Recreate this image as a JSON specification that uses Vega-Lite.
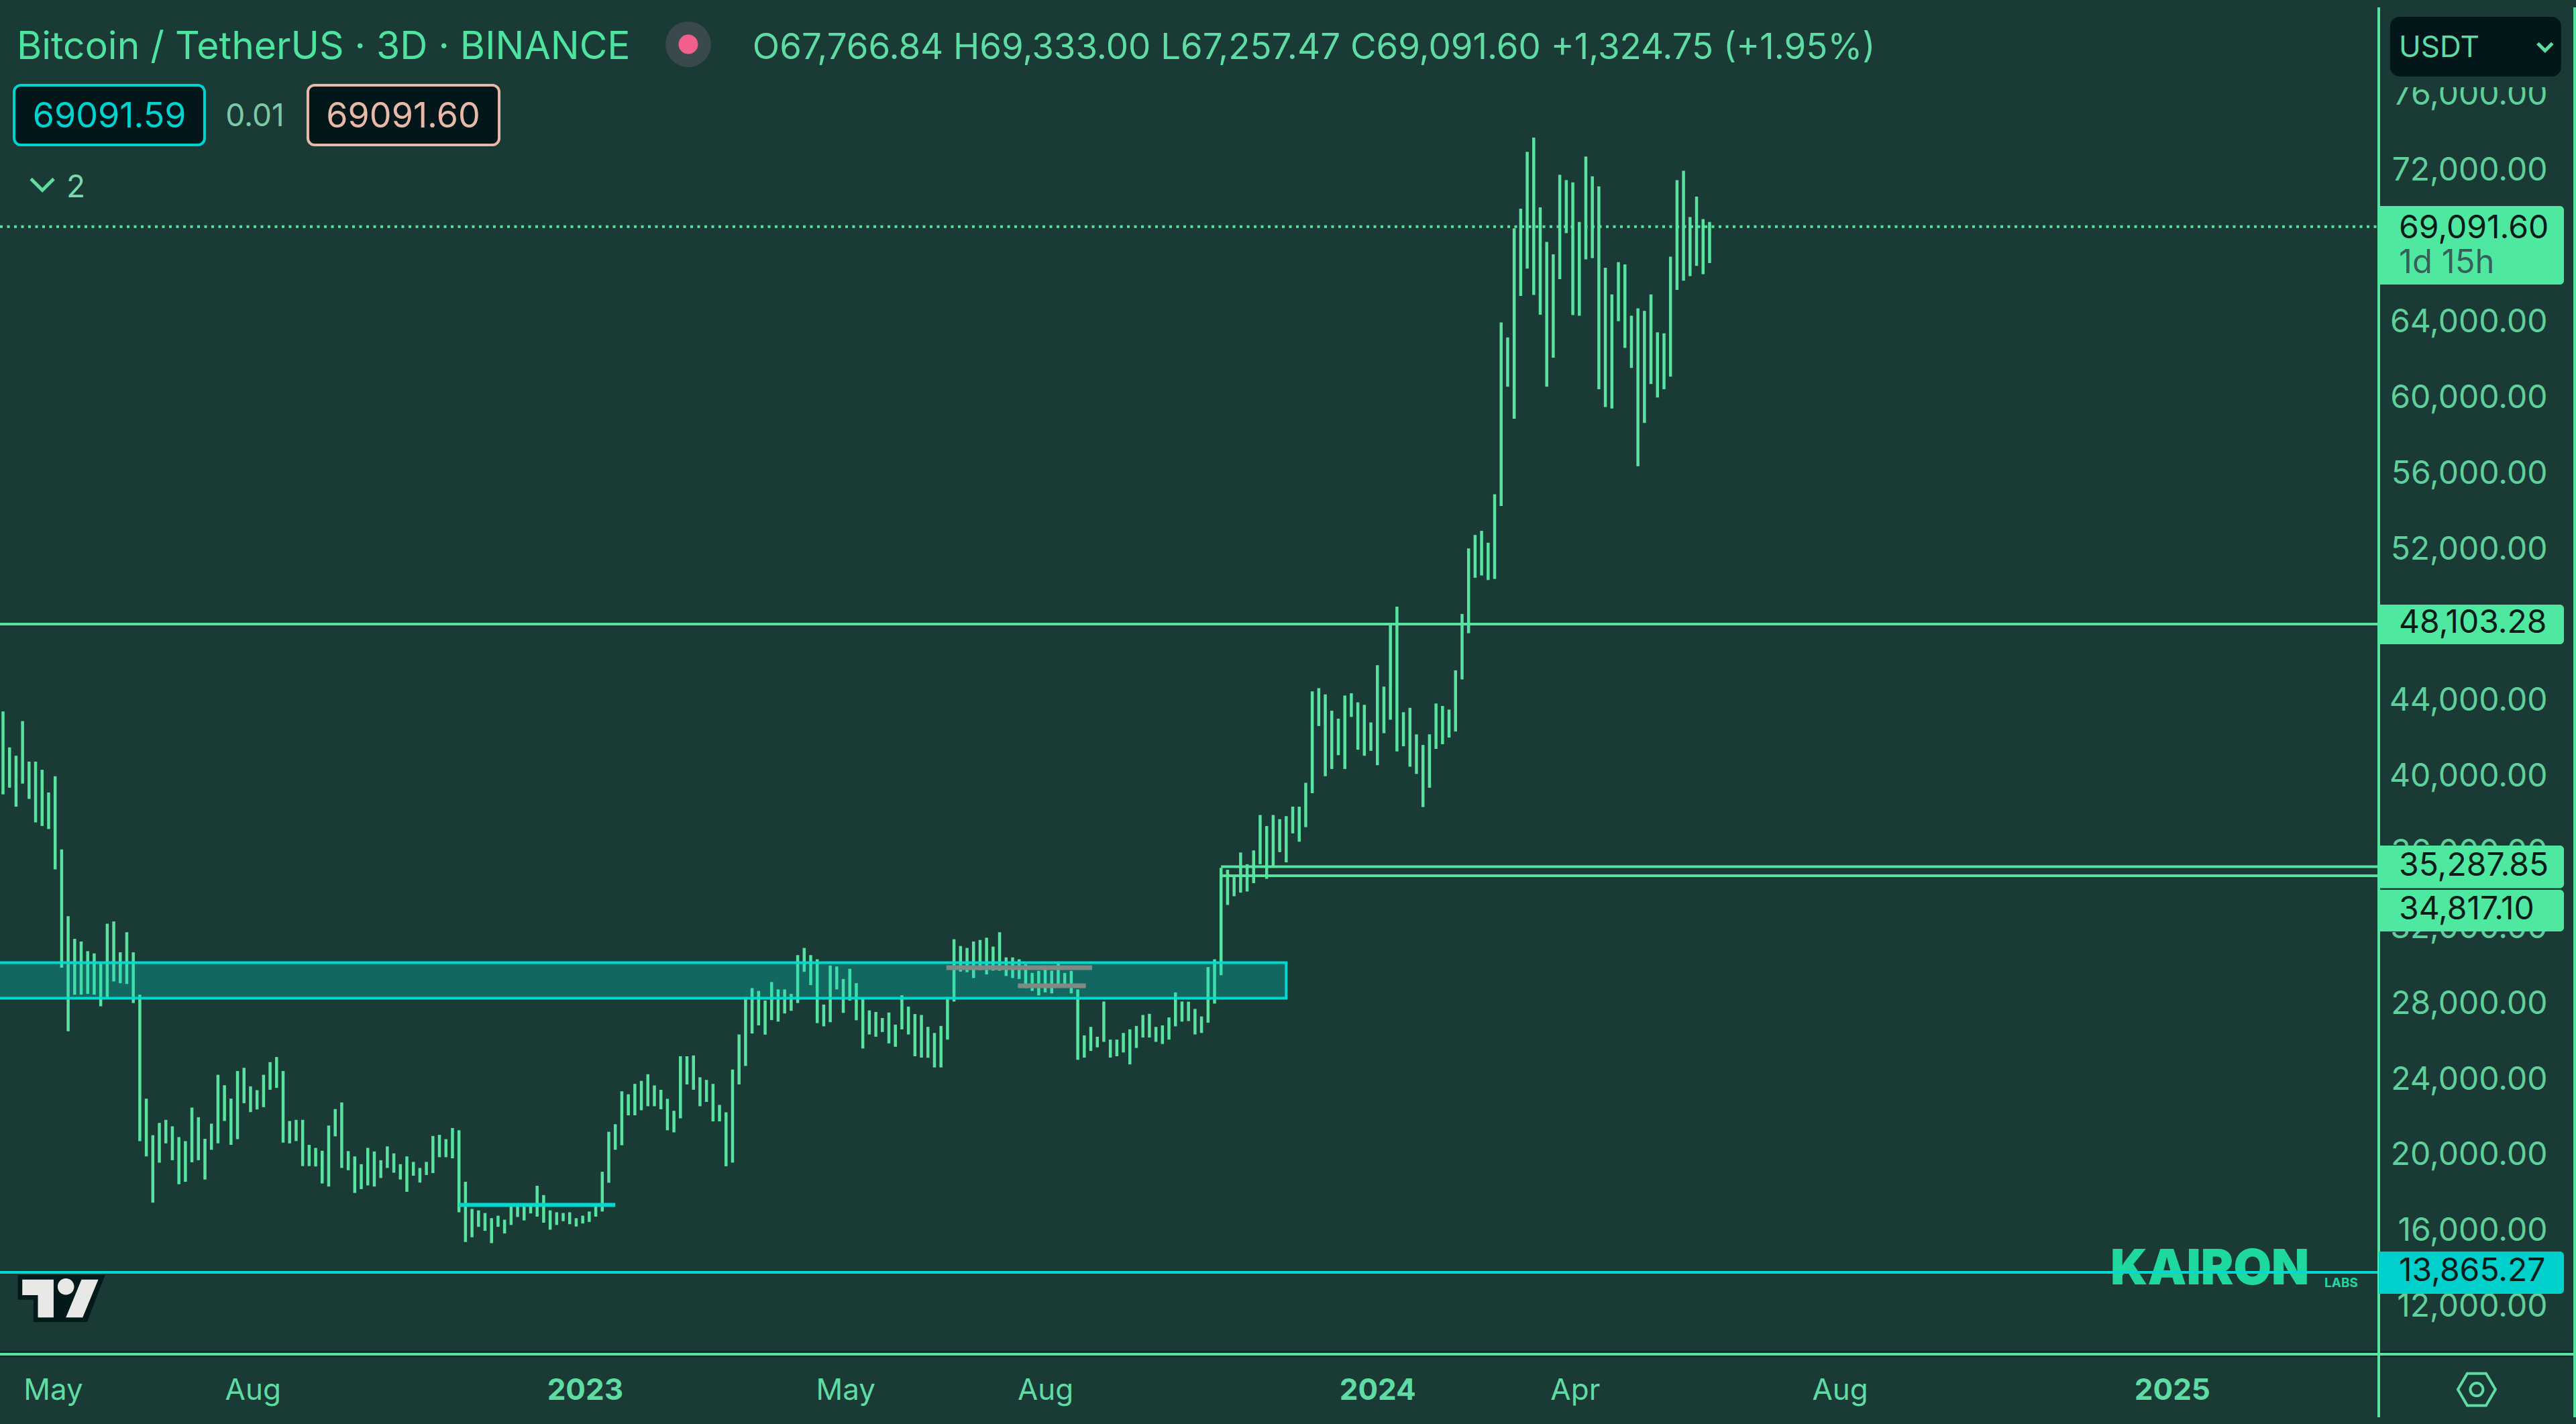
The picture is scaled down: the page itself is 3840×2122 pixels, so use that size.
{
  "$schema": "https://vega.github.io/schema/vega-lite/v6.json",
  "background": "#1a3a36",
  "width": 3546,
  "height": 2018,
  "autosize": {"type": "none"},
  "padding": {"left": 0, "top": 0, "right": 294, "bottom": 104},
  "datasets": {
    "bars": [
      {"date":"2022-04-08","low":39110,"high":43490},{"date":"2022-04-11","low":39460,"high":41590},{"date":"2022-04-14","low":38460,"high":41150},{"date":"2022-04-17","low":39680,"high":42980},{"date":"2022-04-20","low":38870,"high":40840},{"date":"2022-04-23","low":37630,"high":40840},{"date":"2022-04-26","low":37440,"high":40410},{"date":"2022-04-29","low":37280,"high":39210},{"date":"2022-05-02","low":35150,"high":40070},{"date":"2022-05-05","low":29960,"high":36200},
      {"date":"2022-05-08","low":26600,"high":32680},{"date":"2022-05-11","low":28530,"high":31480},{"date":"2022-05-14","low":28530,"high":31340},{"date":"2022-05-17","low":28570,"high":30830},{"date":"2022-05-20","low":28530,"high":30710},{"date":"2022-05-23","low":27920,"high":30260},{"date":"2022-05-26","low":28370,"high":32280},{"date":"2022-05-29","low":29230,"high":32400},{"date":"2022-06-01","low":29140,"high":30770},{"date":"2022-06-04","low":29100,"high":31830},
      {"date":"2022-06-07","low":28090,"high":30770},{"date":"2022-06-10","low":20800,"high":28530},{"date":"2022-06-13","low":19990,"high":23040},{"date":"2022-06-16","low":17550,"high":21110},{"date":"2022-06-19","low":19660,"high":21760},{"date":"2022-06-22","low":20680,"high":21920},{"date":"2022-06-25","low":19790,"high":21580},{"date":"2022-06-28","low":18520,"high":21010},{"date":"2022-07-01","low":18650,"high":20800},{"date":"2022-07-04","low":19680,"high":22570},
      {"date":"2022-07-07","low":19790,"high":22060},{"date":"2022-07-10","low":18770,"high":20920},{"date":"2022-07-13","low":20340,"high":21720},{"date":"2022-07-16","low":20680,"high":24300},{"date":"2022-07-19","low":21860,"high":23750},{"date":"2022-07-22","low":20600,"high":23040},{"date":"2022-07-25","low":20900,"high":24500},{"date":"2022-07-28","low":22800,"high":24670},{"date":"2022-07-31","low":22330,"high":23690},{"date":"2022-08-03","low":22470,"high":23490},
      {"date":"2022-08-06","low":22590,"high":24300},{"date":"2022-08-09","low":23510,"high":24970},{"date":"2022-08-12","low":23610,"high":25240},{"date":"2022-08-15","low":20720,"high":24500},{"date":"2022-08-18","low":20680,"high":21860},{"date":"2022-08-21","low":20800,"high":21920},{"date":"2022-08-24","low":19480,"high":21920},{"date":"2022-08-27","low":19480,"high":20600},{"date":"2022-08-30","low":19460,"high":20440},{"date":"2022-09-02","low":18560,"high":20290},
      {"date":"2022-09-05","low":18400,"high":21620},{"date":"2022-09-08","low":21050,"high":22490},{"date":"2022-09-11","low":19380,"high":22840},{"date":"2022-09-14","low":19260,"high":20270},{"date":"2022-09-17","low":18060,"high":19990},{"date":"2022-09-20","low":18260,"high":19580},{"date":"2022-09-23","low":18460,"high":20440},{"date":"2022-09-26","low":18400,"high":20250},{"date":"2022-09-29","low":18850,"high":19790},{"date":"2022-10-02","low":19380,"high":20520},
      {"date":"2022-10-05","low":19130,"high":20150},{"date":"2022-10-08","low":18770,"high":19580},{"date":"2022-10-11","low":18120,"high":19990},{"date":"2022-10-14","low":18970,"high":19700},{"date":"2022-10-17","low":18610,"high":19380},{"date":"2022-10-20","low":19010,"high":19700},{"date":"2022-10-23","low":19110,"high":21070},{"date":"2022-10-26","low":19950,"high":21130},{"date":"2022-10-29","low":19950,"high":20900},{"date":"2022-11-01","low":19890,"high":21490},
      {"date":"2022-11-04","low":17040,"high":21370},{"date":"2022-11-07","low":15470,"high":18650},{"date":"2022-11-10","low":15720,"high":17220},{"date":"2022-11-13","low":16270,"high":17140},{"date":"2022-11-16","low":16060,"high":17000},{"date":"2022-11-19","low":15410,"high":16730},{"date":"2022-11-22","low":16270,"high":16860},{"date":"2022-11-25","low":15920,"high":16650},{"date":"2022-11-28","low":16370,"high":17340},{"date":"2022-12-01","low":16790,"high":17450},
      {"date":"2022-12-04","low":16610,"high":17340},{"date":"2022-12-07","low":16980,"high":17390},{"date":"2022-12-10","low":16810,"high":18440},{"date":"2022-12-13","low":16490,"high":17950},{"date":"2022-12-16","low":16120,"high":17140},{"date":"2022-12-19","low":16370,"high":17040},{"date":"2022-12-22","low":16570,"high":17000},{"date":"2022-12-25","low":16410,"high":17040},{"date":"2022-12-28","low":16290,"high":16730},{"date":"2022-12-31","low":16450,"high":16860},
      {"date":"2023-01-03","low":16530,"high":17080},{"date":"2023-01-06","low":16810,"high":17410},{"date":"2023-01-09","low":17080,"high":19180},{"date":"2023-01-12","low":18600,"high":21290},{"date":"2023-01-15","low":20340,"high":21690},{"date":"2023-01-18","low":20580,"high":23430},{"date":"2023-01-21","low":22160,"high":23270},{"date":"2023-01-24","low":22160,"high":23820},{"date":"2023-01-27","low":22430,"high":23980},{"date":"2023-01-30","low":22640,"high":24330},
      {"date":"2023-02-02","low":22640,"high":23740},{"date":"2023-02-05","low":22480,"high":23510},{"date":"2023-02-08","low":21370,"high":23030},{"date":"2023-02-11","low":21260,"high":22400},{"date":"2023-02-14","low":22000,"high":25280},{"date":"2023-02-17","low":23790,"high":25280},{"date":"2023-02-20","low":23510,"high":25320},{"date":"2023-02-23","low":22640,"high":24170},{"date":"2023-02-26","low":22870,"high":24030},{"date":"2023-03-01","low":21840,"high":23820},
      {"date":"2023-03-04","low":21840,"high":22710},{"date":"2023-03-07","low":19470,"high":22320},{"date":"2023-03-10","low":19660,"high":24580},{"date":"2023-03-13","low":23790,"high":26430},{"date":"2023-03-16","low":24770,"high":28410},{"date":"2023-03-19","low":26480,"high":28880},{"date":"2023-03-22","low":26910,"high":28730},{"date":"2023-03-25","low":26420,"high":28220},{"date":"2023-03-28","low":27190,"high":29200},{"date":"2023-03-31","low":27110,"high":28810},
      {"date":"2023-04-03","low":27540,"high":28810},{"date":"2023-04-06","low":27680,"high":28570},{"date":"2023-04-09","low":28090,"high":30620},{"date":"2023-04-12","low":29740,"high":31000},{"date":"2023-04-15","low":29040,"high":30620},{"date":"2023-04-18","low":27030,"high":30400},{"date":"2023-04-21","low":26860,"high":28010},{"date":"2023-04-24","low":27080,"high":30070},{"date":"2023-04-27","low":28810,"high":30020},{"date":"2023-04-30","low":27570,"high":29360},
      {"date":"2023-05-03","low":28220,"high":29900},{"date":"2023-05-06","low":27180,"high":29140},{"date":"2023-05-09","low":25690,"high":28360},{"date":"2023-05-12","low":26430,"high":27700},{"date":"2023-05-15","low":26310,"high":27620},{"date":"2023-05-18","low":26560,"high":27300},{"date":"2023-05-21","low":25960,"high":27590},{"date":"2023-05-24","low":25780,"high":26950},{"date":"2023-05-27","low":26700,"high":28500},{"date":"2023-05-30","low":26430,"high":27900},
      {"date":"2023-06-02","low":25280,"high":27510},{"date":"2023-06-05","low":25210,"high":27460},{"date":"2023-06-08","low":25200,"high":26830},{"date":"2023-06-11","low":24690,"high":26510},{"date":"2023-06-14","low":24690,"high":26880},{"date":"2023-06-17","low":26160,"high":28410},{"date":"2023-06-20","low":28170,"high":31460},{"date":"2023-06-23","low":29750,"high":31100},{"date":"2023-06-26","low":29720,"high":31000},{"date":"2023-06-29","low":29410,"high":31340},
      {"date":"2023-07-02","low":29830,"high":31420},{"date":"2023-07-05","low":29600,"high":31540},{"date":"2023-07-08","low":29800,"high":31070},{"date":"2023-07-11","low":29800,"high":31830},{"date":"2023-07-14","low":29520,"high":30500},{"date":"2023-07-17","low":29410,"high":30500},{"date":"2023-07-20","low":29360,"high":30400},{"date":"2023-07-23","low":28880,"high":30150},{"date":"2023-07-26","low":28730,"high":29680},{"date":"2023-07-29","low":28490,"high":29790},
      {"date":"2023-08-01","low":28650,"high":30070},{"date":"2023-08-04","low":28600,"high":29800},{"date":"2023-08-07","low":29040,"high":30280},{"date":"2023-08-10","low":28960,"high":29680},{"date":"2023-08-13","low":28600,"high":29790},{"date":"2023-08-16","low":25090,"high":28810},{"date":"2023-08-19","low":25210,"high":26380},{"date":"2023-08-22","low":25560,"high":26830},{"date":"2023-08-25","low":25750,"high":26310},{"date":"2023-08-28","low":26040,"high":28170},
      {"date":"2023-08-31","low":25210,"high":26160},{"date":"2023-09-03","low":25280,"high":26160},{"date":"2023-09-06","low":25480,"high":26510},{"date":"2023-09-09","low":24850,"high":26700},{"date":"2023-09-12","low":25720,"high":26880},{"date":"2023-09-15","low":26270,"high":27460},{"date":"2023-09-18","low":26270,"high":27520},{"date":"2023-09-21","low":26040,"high":26830},{"date":"2023-09-24","low":25930,"high":26910},{"date":"2023-09-27","low":26160,"high":27330},
      {"date":"2023-09-30","low":26860,"high":28650},{"date":"2023-10-03","low":27110,"high":28170},{"date":"2023-10-06","low":27140,"high":28160},{"date":"2023-10-09","low":26430,"high":27780},{"date":"2023-10-12","low":26510,"high":27380},{"date":"2023-10-15","low":27050,"high":29990},{"date":"2023-10-18","low":28060,"high":30400},{"date":"2023-10-21","low":29560,"high":35230},{"date":"2023-10-24","low":33270,"high":35130},{"date":"2023-10-27","low":33730,"high":34850},
      {"date":"2023-10-30","low":33920,"high":36040},{"date":"2023-11-02","low":33980,"high":35420},{"date":"2023-11-05","low":34420,"high":36150},{"date":"2023-11-08","low":35420,"high":38020},{"date":"2023-11-11","low":34650,"high":37440},{"date":"2023-11-14","low":35330,"high":38020},{"date":"2023-11-17","low":36060,"high":37800},{"date":"2023-11-20","low":35520,"high":37960},{"date":"2023-11-23","low":37050,"high":38460},{"date":"2023-11-26","low":36610,"high":38460},
      {"date":"2023-11-29","low":37380,"high":39720},{"date":"2023-12-02","low":39170,"high":44550},{"date":"2023-12-05","low":42720,"high":44720},{"date":"2023-12-08","low":40070,"high":44390},{"date":"2023-12-11","low":40450,"high":43530},{"date":"2023-12-14","low":41180,"high":43110},{"date":"2023-12-17","low":40450,"high":44330},{"date":"2023-12-20","low":43200,"high":44450},{"date":"2023-12-23","low":41470,"high":43970},{"date":"2023-12-26","low":41150,"high":43840},
      {"date":"2023-12-29","low":41410,"high":42910},{"date":"2024-01-01","low":40650,"high":45930},{"date":"2024-01-04","low":42340,"high":44800},{"date":"2024-01-07","low":43050,"high":48100},{"date":"2024-01-10","low":41380,"high":49020},{"date":"2024-01-13","low":41650,"high":43450},{"date":"2024-01-16","low":40570,"high":43680},{"date":"2024-01-19","low":40190,"high":42280},{"date":"2024-01-22","low":38440,"high":41720},{"date":"2024-01-25","low":39460,"high":42280},
      {"date":"2024-01-28","low":41510,"high":43910},{"date":"2024-01-31","low":41760,"high":43780},{"date":"2024-02-03","low":42110,"high":43590},{"date":"2024-02-06","low":42430,"high":45660},{"date":"2024-02-09","low":45180,"high":48640},{"date":"2024-02-12","low":47620,"high":52100},{"date":"2024-02-15","low":50550,"high":52810},{"date":"2024-02-18","low":50670,"high":53030},{"date":"2024-02-21","low":50430,"high":52400},{"date":"2024-02-24","low":50490,"high":54960},
      {"date":"2024-02-27","low":54340,"high":64030},{"date":"2024-03-01","low":60640,"high":63240},{"date":"2024-03-04","low":58950,"high":69000},{"date":"2024-03-07","low":65430,"high":70040},{"date":"2024-03-10","low":66880,"high":73040},{"date":"2024-03-13","low":65490,"high":73800},{"date":"2024-03-16","low":64440,"high":70110},{"date":"2024-03-19","low":60640,"high":68290},{"date":"2024-03-22","low":62170,"high":67630},{"date":"2024-03-25","low":66320,"high":71830},
      {"date":"2024-03-28","low":68750,"high":71550},{"date":"2024-03-31","low":64420,"high":71430},{"date":"2024-04-03","low":64390,"high":69340},{"date":"2024-04-06","low":67360,"high":72800},{"date":"2024-04-09","low":67430,"high":71750},{"date":"2024-04-12","low":60510,"high":71220},{"date":"2024-04-15","low":59570,"high":66920},{"date":"2024-04-18","low":59490,"high":65510},{"date":"2024-04-21","low":64100,"high":67220},{"date":"2024-04-24","low":62690,"high":67100},
      {"date":"2024-04-27","low":61630,"high":64390},{"date":"2024-04-30","low":56440,"high":64780},{"date":"2024-05-03","low":58730,"high":64640},{"date":"2024-05-06","low":60780,"high":65510},{"date":"2024-05-09","low":60070,"high":63510},{"date":"2024-05-12","low":60510,"high":63460},{"date":"2024-05-15","low":61170,"high":67510},{"date":"2024-05-18","low":65750,"high":71550},{"date":"2024-05-21","low":66240,"high":72040},{"date":"2024-05-24","low":66480,"high":69600},
      {"date":"2024-05-27","low":67020,"high":70680},{"date":"2024-05-30","low":66580,"high":69490},{"date":"2024-06-02","low":67170,"high":69340}
    ]
  },
  "encoding": {
    "x": {
      "field": "date",
      "type": "temporal",
      "title": null,
      "scale": {"type": "utc", "nice": false, "domain": ["2022-04-06T14:40:00Z", "2025-04-06T05:00:00Z"]},
      "axis": {
        "values": ["2022-05-01", "2022-08-01", "2023-01-01", "2023-05-01", "2023-08-01", "2024-01-01", "2024-04-01", "2024-08-01", "2025-01-01"],
        "labelExpr": "utcmonth(datum.value) == 0 ? utcFormat(datum.value, '%Y') : utcFormat(datum.value, '%b')",
        "labelFontWeight": {"condition": {"test": "utcmonth(datum.value) == 0", "value": "bold"}, "value": "normal"},
        "labelBaseline": "middle",
        "labelPadding": 54,
        "labelFontSize": 44,
        "labelColor": "#5fdca3",
        "labelOverlap": false,
        "labelFlush": false,
        "labelBound": false,
        "ticks": false,
        "domain": false,
        "grid": false
      }
    },
    "y": {
      "field": "price",
      "type": "quantitative",
      "title": null,
      "scale": {"domain": [9544, 81062], "nice": false, "zero": false},
      "axis": {
        "orient": "right",
        "values": [12000, 16000, 20000, 24000, 28000, 32000, 36000, 40000, 44000, 48000, 52000, 56000, 60000, 64000, 68000, 72000, 76000],
        "format": ",.2f",
        "labelAlign": "right",
        "labelBaseline": "middle",
        "labelPadding": 251,
        "labelOffset": -1,
        "labelFontSize": 48,
        "labelLimit": 1000,
        "labelColor": "#5fd09c",
        "labelOverlap": false,
        "labelFlush": false,
        "labelBound": false,
        "ticks": false,
        "domain": false,
        "grid": false
      }
    }
  },
  "layer": [
    {
      "data": {"values": [{"date": "2024-12-03T15:00:00Z", "price": 14010, "label": "KAIRON"}]},
      "mark": {"type": "text", "align": "left", "baseline": "middle", "fontSize": 73, "fontWeight": 900, "color": "#1fd8a0"},
      "encoding": {"text": {"field": "label"}}
    },
    {
      "data": {"values": [{"date": "2025-03-12T05:00:00Z", "price": 13300, "label": "LABS"}]},
      "mark": {"type": "text", "align": "left", "baseline": "middle", "fontSize": 19, "fontWeight": 700, "letterSpacing": 3, "color": "#1fd8a0"},
      "encoding": {"text": {"field": "label"}}
    },
    {
      "data": {"name": "bars"},
      "mark": {"type": "rule", "color": "#58e3a1", "strokeWidth": 4.5},
      "encoding": {
        "y": {"field": "low", "type": "quantitative", "title": null},
        "y2": {"field": "high"}
      }
    },
    {
      "data": {"values": [{"date": "2022-03-20", "end": "2023-11-20", "price": 28349, "top": 30220}], "format": {"parse": {"date": "date", "end": "date"}}},
      "mark": {"type": "rect", "fill": "#00d4c8", "fillOpacity": 0.3, "stroke": "#00d8d0", "strokeWidth": 4},
      "encoding": {"x2": {"field": "end"}, "y2": {"field": "top"}}
    },
    {
      "data": {"values": [
        {"date": "2022-04-06T14:40:00Z", "end": "2025-04-06T05:00:00Z", "price": 48103.28},
        {"date": "2023-10-21", "end": "2025-04-06T05:00:00Z", "price": 35287.85},
        {"date": "2023-10-21", "end": "2025-04-06T05:00:00Z", "price": 34817.10}
      ], "format": {"parse": {"date": "date", "end": "date"}}},
      "mark": {"type": "rule", "color": "#58e3a1", "strokeWidth": 4},
      "encoding": {"x2": {"field": "end"}}
    },
    {
      "data": {"values": [{"date": "2022-04-06T14:40:00Z", "end": "2025-04-06T05:00:00Z", "price": 69091.6}], "format": {"parse": {"date": "date", "end": "date"}}},
      "mark": {"type": "rule", "color": "#58e3a1", "strokeWidth": 4, "strokeDash": [4, 6.5]},
      "encoding": {"x2": {"field": "end"}}
    },
    {
      "data": {"values": [{"date": "2022-04-06T14:40:00Z", "end": "2025-04-06T05:00:00Z", "price": 13865.27}], "format": {"parse": {"date": "date", "end": "date"}}},
      "mark": {"type": "rule", "color": "#00d8d0", "strokeWidth": 4},
      "encoding": {"x2": {"field": "end"}}
    },
    {
      "data": {"values": [{"date": "2022-11-04", "end": "2023-01-15", "price": 17427}], "format": {"parse": {"date": "date", "end": "date"}}},
      "mark": {"type": "rule", "color": "#00d8d0", "strokeWidth": 6},
      "encoding": {"x2": {"field": "end"}}
    },
    {
      "data": {"values": [
        {"date": "2023-06-16T12:00:00Z", "end": "2023-08-22T14:00:00Z", "price": 29958},
        {"date": "2023-07-19T10:00:00Z", "end": "2023-08-19T17:00:00Z", "price": 28999}
      ], "format": {"parse": {"date": "date", "end": "date"}}},
      "mark": {"type": "rule", "color": "#808a85", "strokeWidth": 7},
      "encoding": {"x2": {"field": "end"}}
    },
    {
      "data": {"values": [{"date": "2022-04-06T14:40:00Z", "end": "2025-07-05T10:00:00Z", "price": 9544}], "format": {"parse": {"date": "date", "end": "date"}}},
      "mark": {"type": "rule", "color": "#10262a", "strokeWidth": 9},
      "encoding": {"x2": {"field": "end"}}
    },
    {
      "data": {"values": [{"date": "2022-04-06T14:40:00Z", "end": "2025-07-05T10:00:00Z", "price": 9544}], "format": {"parse": {"date": "date", "end": "date"}}},
      "mark": {"type": "rule", "color": "#58e3a1", "strokeWidth": 4},
      "encoding": {"x2": {"field": "end"}}
    },
    {
      "data": {"values": [
        {"date": "2025-04-06T05:00:00Z", "price": 6213, "top": 80672},
        {"date": "2025-07-05T10:00:00Z", "price": 6213, "top": 80672}
      ], "format": {"parse": {"date": "date"}}},
      "mark": {"type": "rule", "color": "#58e3a1", "strokeWidth": 4},
      "encoding": {"y2": {"field": "top"}}
    },
    {
      "data": {"values": [
        {"date": "2025-04-06T05:00:00Z", "end": "2025-06-30T12:00:00Z", "price": 66036, "top": 70183},
        {"date": "2025-04-06T05:00:00Z", "end": "2025-06-30T12:00:00Z", "price": 47040, "top": 49131},
        {"date": "2025-04-06T05:00:00Z", "end": "2025-06-30T12:00:00Z", "price": 34158, "top": 36408},
        {"date": "2025-04-06T05:00:00Z", "end": "2025-06-30T12:00:00Z", "price": 31872, "top": 34069}
      ], "format": {"parse": {"date": "date", "end": "date"}}},
      "mark": {"type": "rect", "fill": "#4fe8a0", "cornerRadiusTopRight": 6, "cornerRadiusBottomRight": 6},
      "encoding": {"x2": {"field": "end"}, "y2": {"field": "top"}}
    },
    {
      "data": {"values": [{"date": "2025-04-06T05:00:00Z", "end": "2025-06-30T12:00:00Z", "price": 12735, "top": 14967}], "format": {"parse": {"date": "date", "end": "date"}}},
      "mark": {"type": "rect", "fill": "#00d0cc", "cornerRadiusTopRight": 6, "cornerRadiusBottomRight": 6},
      "encoding": {"x2": {"field": "end"}, "y2": {"field": "top"}}
    },
    {
      "data": {"values": [{"date": "2025-04-08T00:00:00Z", "end": "2025-07-03T00:00:00Z", "price": 76455, "top": 78000}], "format": {"parse": {"date": "date", "end": "date"}}},
      "mark": {"type": "rect", "fill": "#1a3a36"},
      "encoding": {"x2": {"field": "end"}, "y2": {"field": "top"}}
    },
    {
      "data": {"values": [{"date": "2025-04-11T11:00:00Z", "end": "2025-06-29T05:00:00Z", "price": 77022, "top": 80176}], "format": {"parse": {"date": "date", "end": "date"}}},
      "mark": {"type": "rect", "fill": "#03171a", "cornerRadius": 14},
      "encoding": {"x2": {"field": "end"}, "y2": {"field": "top"}}
    },
    {
      "data": {"values": [{"date": "2022-04-13T02:40:00Z", "end": "2022-07-09T19:30:00Z", "price": 73407, "top": 76561}], "format": {"parse": {"date": "date", "end": "date"}}},
      "mark": {"type": "rect", "fill": "#03171a", "stroke": "#00d4d0", "strokeWidth": 4, "cornerRadius": 10},
      "encoding": {"x2": {"field": "end"}, "y2": {"field": "top"}}
    },
    {
      "data": {"values": [{"date": "2022-08-26T10:00:00Z", "end": "2022-11-22T12:00:00Z", "price": 73407, "top": 76561}], "format": {"parse": {"date": "date", "end": "date"}}},
      "mark": {"type": "rect", "fill": "#03171a", "stroke": "#e8b8a8", "strokeWidth": 4, "cornerRadius": 10},
      "encoding": {"x2": {"field": "end"}, "y2": {"field": "top"}}
    },
    {
      "data": {"values": [{"date": "2025-04-15T12:00:00Z", "price": 68990, "label": "69,091.60"}, {"date": "2025-04-15T12:00:00Z", "price": 48140, "label": "48,103.28"}, {"date": "2025-04-15T12:00:00Z", "price": 35310, "label": "35,287.85"}, {"date": "2025-04-15T12:00:00Z", "price": 33010, "label": "34,817.10"}, {"date": "2025-04-15T12:00:00Z", "price": 13905, "label": "13,865.27"}]},
      "mark": {"type": "text", "align": "left", "baseline": "middle", "fontSize": 48, "color": "#0a1c1a"},
      "encoding": {"text": {"field": "label"}}
    },
    {
      "data": {"values": [{"date": "2025-04-15T12:00:00Z", "price": 67170, "label": "1d 15h"}]},
      "mark": {"type": "text", "align": "left", "baseline": "middle", "fontSize": 49, "color": "#38605a"},
      "encoding": {"text": {"field": "label"}}
    },
    {
      "data": {"values": [{"date": "2025-04-15T12:00:00Z", "price": 78500, "label": "USDT"}]},
      "mark": {"type": "text", "align": "left", "baseline": "middle", "fontSize": 44, "color": "#5fdca3"},
      "encoding": {"text": {"field": "label"}}
    },
    {
      "data": {"values": [{"date": "2022-04-14T07:30:00Z", "price": 77943, "label": "Bitcoin / TetherUS · 3D · BINANCE"}]},
      "mark": {"type": "text", "align": "left", "baseline": "alphabetic", "fontSize": 57, "color": "#4fe3a0"},
      "encoding": {"text": {"field": "label"}}
    },
    {
      "data": {"values": [{"date": "2023-03-19T05:00:00Z", "price": 77943, "label": "O67,766.84  H69,333.00  L67,257.47  C69,091.60  +1,324.75  (+1.95%)"}]},
      "mark": {"type": "text", "align": "left", "baseline": "alphabetic", "fontSize": 52.8, "color": "#5fdca3"},
      "encoding": {"text": {"field": "label"}}
    },
    {
      "data": {"values": [{"date": "2022-05-27T00:20:00Z", "price": 74890, "label": "69091.59"}]},
      "mark": {"type": "text", "align": "center", "baseline": "middle", "fontSize": 52, "color": "#00d4d0"},
      "encoding": {"text": {"field": "label"}}
    },
    {
      "data": {"values": [{"date": "2022-10-09T07:30:00Z", "price": 74890, "label": "69091.60"}]},
      "mark": {"type": "text", "align": "center", "baseline": "middle", "fontSize": 52, "color": "#e8b8a8"},
      "encoding": {"text": {"field": "label"}}
    },
    {
      "data": {"values": [{"date": "2022-08-02T00:20:00Z", "price": 74890, "label": "0.01"}]},
      "mark": {"type": "text", "align": "center", "baseline": "middle", "fontSize": 46, "color": "#7cc9a6"},
      "encoding": {"text": {"field": "label"}}
    },
    {
      "data": {"values": [{"date": "2022-05-11T12:16:00Z", "price": 71130, "label": "2"}]},
      "mark": {"type": "text", "align": "center", "baseline": "middle", "fontSize": 46, "color": "#7cd8ab"},
      "encoding": {"text": {"field": "label"}}
    },
    {
      "data": {"values": [{"date": "2022-04-26T02:40:00Z", "price": 71316}]},
      "mark": {"type": "point", "shape": "M-1,-0.5L0,0.5L1,-0.5", "filled": false, "size": 1156, "strokeWidth": 5, "color": "#5fdca3", "opacity": 1},
      "encoding": {}
    },
    {
      "data": {"values": [{"date": "2025-06-21T19:00:00Z", "price": 78581}]},
      "mark": {"type": "point", "shape": "M-1,-0.5L0,0.5L1,-0.5", "filled": false, "size": 484, "strokeWidth": 5, "color": "#5fdca3", "opacity": 1},
      "encoding": {}
    },
    {
      "data": {"values": [{"date": "2023-02-17T14:40:00Z", "price": 78723}]},
      "mark": {"type": "point", "shape": "circle", "filled": true, "size": 4624, "color": "#3a4a4c", "opacity": 1},
      "encoding": {}
    },
    {
      "data": {"values": [{"date": "2023-02-17T14:40:00Z", "price": 78723}]},
      "mark": {"type": "point", "shape": "circle", "filled": true, "size": 840, "color": "#f0608a", "opacity": 1},
      "encoding": {}
    },
    {
      "data": {"values": [{"date": "2025-05-21T07:00:00Z", "price": 7680}]},
      "mark": {"type": "point", "shape": "M-1,0L-0.5,-0.85L0.5,-0.85L1,0L0.5,0.85L-0.5,0.85Z", "filled": false, "size": 3136, "strokeWidth": 4, "color": "#5fdca3", "opacity": 1},
      "encoding": {}
    },
    {
      "data": {"values": [{"date": "2025-05-21T07:00:00Z", "price": 7680}]},
      "mark": {"type": "point", "shape": "circle", "filled": false, "size": 361, "strokeWidth": 4, "color": "#5fdca3", "opacity": 1},
      "encoding": {}
    },
    {
      "data": {"values": [{"date": "2022-05-05T10:00:00Z", "price": 12486}]},
      "mark": {"type": "point", "shape": "M-66.7,-35L63.3,-35L36.7,35L-43.3,35L-43.3,1.7L-66.7,1.7Z", "filled": true, "size": 4, "color": "#04191a", "opacity": 1},
      "encoding": {}
    },
    {
      "data": {"values": [{"date": "2022-05-05T10:00:00Z", "price": 12486}]},
      "mark": {"type": "point", "shape": "M-60,-28.3L-13.3,-28.3L-13.3,28.3L-36.7,28.3L-36.7,-5L-60,-5ZM28.3,-28.3L53.3,-28.3L30,28.3L5,28.3ZM-7.3,-17.7A12.3,12.3 0 1 1 17.3,-17.7A12.3,12.3 0 1 1 -7.3,-17.7Z", "filled": true, "size": 4, "color": "#e8e8e6", "opacity": 1},
      "encoding": {}
    }
  ],
  "config": {
    "font": "Inter",
    "view": {"stroke": null}
  }
}
